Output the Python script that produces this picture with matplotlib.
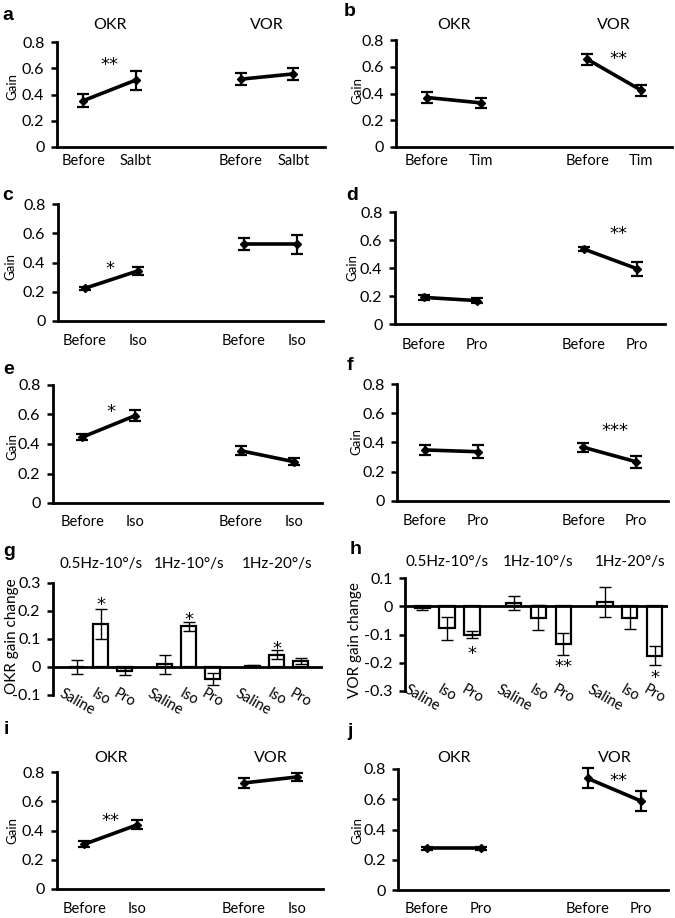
import matplotlib
matplotlib.use('Agg')
import matplotlib.pyplot as plt
from matplotlib.ticker import FuncFormatter
from matplotlib.transforms import blended_transform_factory

plt.rcParams['font.family'] = ['Lato', 'DejaVu Sans']

W, H = 675, 918

# line panels: before/after gain for OKR and VOR
panel_ids = ['a', 'b', 'c', 'd', 'e', 'f', 'i', 'j']
drug = ['Salbt', 'Tim', 'Iso', 'Pro', 'Iso', 'Pro', 'Iso', 'Pro']
okr_mean = [[0.353, 0.51], [0.37, 0.33], [0.224, 0.343], [0.19, 0.167],
            [0.446, 0.592], [0.349, 0.337], [0.306, 0.439], [0.275, 0.275]]
okr_err = [[0.05, 0.072], [0.038, 0.037], [0.01, 0.027], [0.02, 0.02],
           [0.02, 0.036], [0.032, 0.045], [0.02, 0.03], [0.012, 0.008]]
vor_mean = [[0.517, 0.557], [0.655, 0.425], [0.526, 0.526], [0.535, 0.394],
            [0.354, 0.28], [0.367, 0.268], [0.725, 0.766], [0.738, 0.588]]
vor_err = [[0.048, 0.048], [0.04, 0.04], [0.043, 0.065], [0.015, 0.05],
           [0.03, 0.025], [0.03, 0.04], [0.035, 0.025], [0.066, 0.066]]
# significance marks: text, x position, gain level
sig_text = ['**', '**', '*', '**', '*', '***', '**', '**']
sig_x = [1.5, 4.57, 1.47, 4.65, 1.55, 4.6, 1.5, 4.57]
sig_y = [0.665, 0.70, 0.395, 0.685, 0.653, 0.514, 0.503, 0.76]
show_titles = [True, True, False, False, False, False, True, True]

# bar panels: gain change per condition
conditions = ['0.5Hz-10°/s', '1Hz-10°/s', '1Hz-20°/s']
treatments = ['Saline', 'Iso', 'Pro']
okr_change = [0.0, 0.154, -0.016, 0.009, 0.145, -0.043, 0.004, 0.043, 0.021]
okr_change_err = [0.026, 0.054, 0.013, 0.034, 0.016, 0.022, 0.003, 0.016, 0.01]
okr_sig = [(1, 0.24, '*'), (4, 0.186, '*'), (7, 0.085, '*')]
vor_change = [-0.007, -0.078, -0.1, 0.01, -0.04, -0.133, 0.015, -0.04, -0.175]
vor_change_err = [0.007, 0.04, 0.012, 0.025, 0.045, 0.038, 0.052, 0.042, 0.033]
vor_sig = [(2, -0.15, '*'), (5, -0.197, '**'), (8, -0.233, '*')]

# layout in pixels
line_rect = [(57, 42, 325, 147), (396, 40, 672, 147), (58, 204, 323, 321),
             (395, 212, 665, 324), (53, 385, 322, 503), (397, 384, 668, 501),
             (57, 772, 323, 889), (398, 769, 668, 890)]
line_xlim = [(0.5, 5.6), (0.42, 5.58), (0.49, 5.49), (0.46, 5.52),
             (0.45, 5.53), (0.47, 5.6), (0.49, 5.49), (0.46, 5.5)]
title_y = [25, 25, None, None, None, None, 758, 758]
label_y = [162, 162, 342, 346, 523, 522, 910, 910]
letter_pos = [(8, 15), (350, 12), (8, 195), (352, 195), (9, 369), (350, 366),
              (6, 729), (350, 732)]
gain_pos = [(12, 87), (357, 90), (10, 266), (352, 268), (12, 446), (356, 441),
            (12, 830), (357, 830)]


def px_rect(x0, y0, x1, y1):
    return [x0 / W, 1 - y1 / H, (x1 - x0) / W, (y1 - y0) / H]


def fmt(v, pos):
    if abs(v) < 1e-9:
        return '0'
    return f'{v:.1f}'


def base_style(ax):
    for s in ['top', 'right']:
        ax.spines[s].set_visible(False)
    ax.spines['left'].set_linewidth(2)
    ax.spines['bottom'].set_linewidth(2)
    ax.tick_params(axis='y', length=4, width=1.8, labelsize=11.5, pad=5)
    ax.yaxis.set_major_formatter(FuncFormatter(fmt))
    ax.patch.set_visible(False)


def stars(ax, s, x, y):
    ax.annotate(s, (x, y), xytext=(0, -4), textcoords='offset points', ha='center',
                va='center', fontsize=13, family='DejaVu Sans')


fig = plt.figure(figsize=(W / 100, H / 100), dpi=100)

for k in range(len(panel_ids)):
    ax = fig.add_axes(px_rect(*line_rect[k]))
    base_style(ax)
    for xs, m, e in [([1, 2], okr_mean[k], okr_err[k]), ([4, 5], vor_mean[k], vor_err[k])]:
        ax.errorbar(xs, m, yerr=e, color='black', lw=2.6, marker='D', ms=4,
                    elinewidth=1.6, capsize=4.5, capthick=1.6, clip_on=False)
    ax.set_ylim(0, 0.8)
    ax.set_yticks([0, 0.2, 0.4, 0.6, 0.8])
    ax.set_xlim(*line_xlim[k])
    ax.set_xticks([1, 2, 4, 5])
    ax.set_xticklabels(['Before', drug[k], 'Before', drug[k]])
    pad = (label_y[k] - line_rect[k][3] - 8) * 0.72
    ax.tick_params(axis='x', length=0, labelsize=10.5, pad=pad)
    stars(ax, sig_text[k], sig_x[k], sig_y[k])
    if show_titles[k]:
        tr = blended_transform_factory(ax.transData, fig.transFigure)
        ax.text(1.5, 1 - title_y[k] / H, 'OKR', transform=tr, ha='center', va='center', fontsize=11.5)
        ax.text(4.5, 1 - title_y[k] / H, 'VOR', transform=tr, ha='center', va='center', fontsize=11.5)
    fig.text(letter_pos[k][0] / W, 1 - letter_pos[k][1] / H, panel_ids[k], ha='center', va='center',
             fontsize=14, fontweight='bold', family='Liberation Sans')
    fig.text(gain_pos[k][0] / W, 1 - gain_pos[k][1] / H, 'Gain', rotation=90, ha='center',
             va='center', fontsize=9.5)

# bar panels g and h
bar_x = [g * 3.68 + t for g in range(3) for t in range(3)]
bar_specs = [
    ('g', (53, 583, 323, 695), (-1.0, 10.3), (-0.1, 0.3), okr_change, okr_change_err, okr_sig,
     'OKR gain change', 564, (9, 551), (12, 636)),
    ('h', (405, 578, 668, 691), (-0.7, 9.9), (-0.3, 0.1), vor_change, vor_change_err, vor_sig,
     'VOR gain change', 562, (356, 549), (355, 640)),
]
for pid, rect, xl, yl, vals, errs, sigs, ylab, ty, lp, yp in bar_specs:
    ax = fig.add_axes(px_rect(*rect))
    base_style(ax)
    ax.spines['bottom'].set_visible(False)
    ax.bar(bar_x, vals, width=0.62, color='white', edgecolor='black', lw=1.6, zorder=2)
    ax.errorbar(bar_x, vals, yerr=errs, fmt='none', ecolor='black', elinewidth=1,
                capsize=4, capthick=1, zorder=3)
    ax.axhline(0, color='black', lw=2, zorder=4)
    ax.set_xlim(*xl)
    ax.set_ylim(*yl)
    ax.set_yticks([yl[0] + 0.1 * i for i in range(5)])
    ax.set_xticks(bar_x)
    ax.set_xticklabels(treatments * 3, rotation=-30, ha='center', va='top')
    ax.tick_params(axis='x', length=0, labelsize=10.5, pad=-6)
    for idx, yv, s in sigs:
        stars(ax, s, bar_x[idx], yv)
    tr = blended_transform_factory(ax.transData, fig.transFigure)
    for g, name in enumerate(conditions):
        ax.text(bar_x[g * 3 + 1], 1 - ty / H, name, transform=tr, ha='center', va='center', fontsize=11)
    fig.text(lp[0] / W, 1 - lp[1] / H, pid, ha='center', va='center', fontsize=14,
             fontweight='bold', family='Liberation Sans')
    fig.text(yp[0] / W, 1 - yp[1] / H, ylab, rotation=90, ha='center', va='center', fontsize=11)

fig.savefig('out.png', dpi=100)
